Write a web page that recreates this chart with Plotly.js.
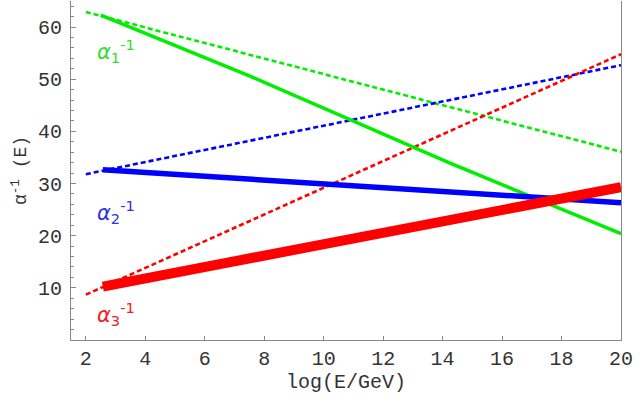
<!DOCTYPE html>
<html>
<head>
<meta charset="utf-8">
<script src="https://cdn.plot.ly/plotly-3.0.1.min.js"></script>
<style>html,body{margin:0;padding:0;background:#fff;}#chart{width:640px;height:396px;}</style>
</head>
<body>
<div id="chart"></div>
<script>
// One-loop SM running (dashed)
const dashedX = [2, 20];
const alpha1Dashed = [62.9, 36.1];
const alpha2Dashed = [31.8, 52.7];
const alpha3Dashed = [8.7, 54.8];

// Solid curves
const solidX1 = [2.5, 7.52, 14.25, 20];
const alpha1Solid = [62.3, 50.6, 33.9, 20.4];
const solidX = [2.57, 20];
const alpha2Solid = [32.65, 26.3];
const alpha3Solid = [10.25, 29.3];

const labels = ['<i>α</i><sub>1</sub><sup>-1</sup>', '<i>α</i><sub>2</sub><sup>-1</sup>', '<i>α</i><sub>3</sub><sup>-1</sup>'];
const labelX = [2.3, 2.3, 2.3];
const labelY = [55.4, 24.5, 4.9];

const xTicks = [2, 4, 6, 8, 10, 12, 14, 16, 18, 20];
const yTicks = [10, 20, 30, 40, 50, 60];

const GREEN = '#00ee00', BLUE = '#0000ff', RED = '#ff0000';
const dash = '5px,3px';

const traces = [
  {x: dashedX, y: alpha1Dashed, mode: 'lines', line: {color: GREEN, width: 2.6, dash: dash}},
  {x: dashedX, y: alpha2Dashed, mode: 'lines', line: {color: BLUE, width: 2.6, dash: dash}},
  {x: dashedX, y: alpha3Dashed, mode: 'lines', line: {color: RED, width: 2.6, dash: dash}},
  {x: solidX1, y: alpha1Solid, mode: 'lines', line: {color: GREEN, width: 3.5}},
  {x: solidX, y: alpha2Solid, mode: 'lines', line: {color: BLUE, width: 5.5}},
  {x: solidX, y: alpha3Solid, mode: 'lines', line: {color: RED, width: 10}}
];

const labelColors = ['#33dd33', '#3333dd', '#ee2222'];
const annotations = labels.map((t, i) => ({
  x: labelX[i], y: labelY[i], xref: 'x', yref: 'y', xanchor: 'left', text: t, showarrow: false,
  font: {family: 'DejaVu Sans', size: 21, color: labelColors[i]}
}));

const axisFont = {family: 'Liberation Mono, Courier New, monospace', size: 20, color: '#333'};

const layout = {
  width: 640, height: 396,
  margin: {l: 71, r: 19, t: 1, b: 56},
  paper_bgcolor: '#fff', plot_bgcolor: '#fff',
  showlegend: false,
  xaxis: {
    range: [1.5, 20], tickvals: xTicks, ticktext: xTicks.map(String),
    ticks: 'inside', ticklen: 4, tickcolor: '#888', tickwidth: 1,
    showline: true, linecolor: '#888', linewidth: 1,
    showgrid: false, zeroline: false,
    tickfont: axisFont,
    title: {text: 'log(E/GeV)', font: axisFont, standoff: 2}
  },
  yaxis: {
    range: [0, 65], tickvals: yTicks, ticktext: yTicks.map(String),
    ticks: 'inside', ticklen: 5, tickcolor: '#888', tickwidth: 1,
    minor: {dtick: 2, ticks: 'inside', ticklen: 3, tickcolor: '#888', showgrid: false},
    showline: true, mirror: true, linecolor: '#888', linewidth: 1,
    showgrid: false, zeroline: false,
    tickfont: axisFont, ticklabelstandoff: 4,
    title: {text: 'α<sup>-1</sup> (E)', font: {family: 'Liberation Mono, Courier New, monospace', size: 18, color: '#333'}, standoff: 6}
  },
  annotations: annotations
};

Plotly.newPlot('chart', traces, layout, {displayModeBar: false, staticPlot: true});
</script>
</body>
</html>
